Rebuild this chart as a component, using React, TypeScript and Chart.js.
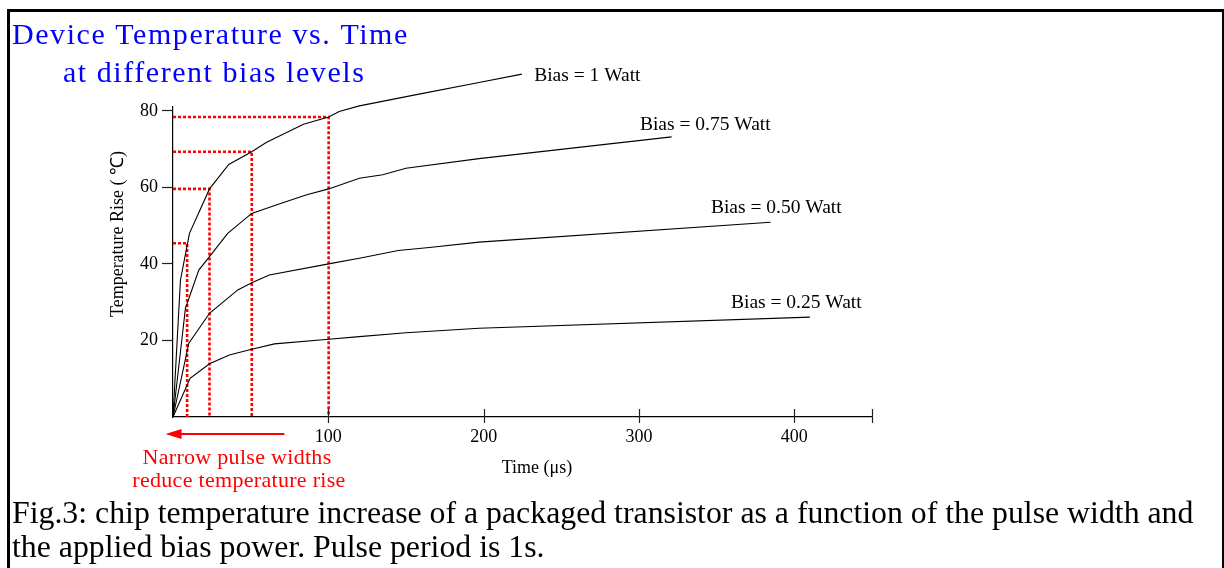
import { useEffect, useRef } from "react";
import { Chart, registerables } from "chart.js";

Chart.register(...registerables);

const SERIF = '"Liberation Serif", "Times New Roman", serif';

// ---- data (time in µs, temperature rise in °C) ----
const seriesNames = ["Bias = 1 Watt", "Bias = 0.75 Watt", "Bias = 0.50 Watt", "Bias = 0.25 Watt"];

const time1W = [0, 4.8, 10.6, 23.5, 35.9, 50.7, 60, 84, 100.2, 107, 120, 160, 197, 224.6];
const temp1W = [0, 35.8, 48, 59.6, 66, 69.3, 71.7, 76.5, 78.4, 79.8, 81.3, 84.5, 87.4, 89.6];

const time075W = [0, 8, 16.6, 23.5, 35.2, 50.7, 66.4, 85.6, 100.2, 120, 135, 150, 197, 321];
const temp075W = [0, 28.4, 38.4, 41.9, 48, 53.2, 55.4, 58, 59.6, 62.4, 63.3, 65, 67.5, 73.2];

const time050W = [0, 10.2, 23.5, 41.7, 50.7, 62, 100.2, 120, 145, 165, 197, 384.7];
const temp050W = [0, 19.3, 27.1, 33.2, 35.1, 37.1, 40, 41.5, 43.5, 44.3, 45.7, 50.9];

const time025W = [0, 11, 23.5, 36.3, 50.7, 65.3, 100.2, 120, 150, 197, 410];
const temp025W = [0, 10.1, 13.9, 16.2, 17.7, 19.1, 20.3, 21, 22, 23.2, 26.1];

// red dotted read-off guides (pulse width -> temperature on the 1 W curve)
const guideTimes = [9.1, 23.5, 50.7, 100.2];
const guideTemps = [45.4, 59.6, 69.3, 78.4];

const xTickValues = [100, 200, 300, 400];
const yTickValues = [20, 40, 60, 80];
const xMax = 450;
const yMax = 81;

// label anchors in data units (left edge, vertical middle)
const LABEL_ANCHORS = [
  { t: 232.5, T: 89.2 },
  { t: 300.6, T: 76.2 },
  { t: 346.3, T: 54.7 },
  { t: 359.2, T: 29.9 },
];

const titleLines = ["Device Temperature vs. Time", "at different bias levels"];
const captionLines = [
  "Fig.3: chip temperature increase of a packaged transistor as a function of the pulse width and",
  "the applied bias power. Pulse period is 1s.",
];
const noteLines = ["Narrow pulse widths", "reduce temperature rise"];

const zip = (xs: number[], ys: number[]) => xs.map((x, i) => ({ x, y: ys[i] }));

function drawText(ctx: any, text: string, x: number, y: number, font: string, color: string, align: string, baseline: string, spacing = 0) {
  ctx.save();
  ctx.font = font;
  ctx.fillStyle = color;
  ctx.textAlign = align;
  ctx.textBaseline = baseline;
  ctx.letterSpacing = spacing + "px";
  ctx.fillText(text, x, y);
  ctx.restore();
}

const decorPlugin = {
  id: "decor",
  beforeDraw(chart: any) {
    const { ctx, width, height } = chart;
    ctx.save();
    ctx.fillStyle = "#ffffff";
    ctx.fillRect(0, 0, width, height);
    ctx.fillStyle = "#000000";
    ctx.fillRect(7, 9, 3, height - 9);
    ctx.fillRect(7, 9, width - 9, 3);
    ctx.fillRect(width - 2, 9, 2, height - 9);
    ctx.restore();
  },
  afterDraw(chart: any) {
    const { ctx, chartArea } = chart;
    const xs = chart.scales.x;
    const ys = chart.scales.y;

    // x tick marks crossing the axis
    ctx.save();
    ctx.strokeStyle = "#222";
    ctx.lineWidth = 1.2;
    [...xTickValues, xMax].forEach((v) => {
      const px = Math.round(xs.getPixelForValue(v)) + 0.5;
      ctx.beginPath();
      ctx.moveTo(px, chartArea.bottom - 8);
      ctx.lineTo(px, chartArea.bottom + 6);
      ctx.stroke();
    });
    ctx.restore();

    // title
    drawText(ctx, titleLines[0], 12, 44, `30px ${SERIF}`, "#0000ff", "left", "alphabetic", 1.55);
    drawText(ctx, titleLines[1], 63, 82, `30px ${SERIF}`, "#0000ff", "left", "alphabetic", 1.55);

    // caption
    drawText(ctx, captionLines[0], 12, 523, `31.8px ${SERIF}`, "#000", "left", "alphabetic");
    drawText(ctx, captionLines[1], 12, 557, `31.8px ${SERIF}`, "#000", "left", "alphabetic");

    // axis titles
    drawText(ctx, "Time (\u03bcs)", 537, 468, `18px ${SERIF}`, "#000", "center", "middle");
    ctx.save();
    ctx.translate(118, 234);
    ctx.rotate(-Math.PI / 2);
    drawText(ctx, "Temperature Rise ( \u2103)", 0, 0, `18px ${SERIF}`, "#000", "center", "middle");
    ctx.restore();

    // series labels
    LABEL_ANCHORS.forEach((a, i) => {
      drawText(ctx, seriesNames[i], xs.getPixelForValue(a.t), ys.getPixelForValue(a.T), `19.5px ${SERIF}`, "#000", "left", "middle");
    });

    // red arrow
    const ay = chartArea.bottom + 17;
    const ax1 = xs.getPixelForValue(71.7);
    const ax0 = xs.getPixelForValue(-4.8);
    ctx.save();
    ctx.strokeStyle = "#ff0000";
    ctx.fillStyle = "#ff0000";
    ctx.lineWidth = 2;
    ctx.beginPath();
    ctx.moveTo(ax1, ay);
    ctx.lineTo(ax0 + 12, ay);
    ctx.stroke();
    ctx.beginPath();
    ctx.moveTo(ax0, ay);
    ctx.lineTo(ax0 + 16, ay - 5);
    ctx.lineTo(ax0 + 16, ay + 5);
    ctx.closePath();
    ctx.fill();
    ctx.restore();

    drawText(ctx, noteLines[0], 237, 464, `22px ${SERIF}`, "#ff0000", "center", "alphabetic", 0.3);
    drawText(ctx, noteLines[1], 239, 486.5, `22px ${SERIF}`, "#ff0000", "center", "alphabetic", 0.3);
  },
};

export default function App() {
  const canvasRef = useRef<HTMLCanvasElement | null>(null);

  useEffect(() => {
    document.body.style.margin = "0";
    const canvas = canvasRef.current;
    if (!canvas) return;

    const curveStyle = {
      borderColor: "#000000",
      borderWidth: 1.1,
      pointRadius: 0,
      tension: 0,
      fill: false,
      clip: false as any,
    };
    const curves = [
      zip(time1W, temp1W),
      zip(time075W, temp075W),
      zip(time050W, temp050W),
      zip(time025W, temp025W),
    ].map((data, i) => ({ label: seriesNames[i], data, ...curveStyle, order: 1 }));

    const guides = guideTimes.map((t, i) => ({
      label: "guide" + i,
      data: [
        { x: 0, y: guideTemps[i] },
        { x: t, y: guideTemps[i] },
        { x: t, y: 0 },
      ],
      borderColor: "#ff0000",
      borderWidth: 2.6,
      borderDash: [3, 2],
      pointRadius: 0,
      tension: 0,
      fill: false,
      clip: false as any,
      order: 2,
    }));

    const chart = new Chart(canvas, {
      type: "line",
      data: { datasets: [...curves, ...guides] as any },
      plugins: [decorPlugin as any],
      options: {
        animation: false,
        responsive: true,
        maintainAspectRatio: false,
        layout: { padding: { left: 0, top: 107, right: 352, bottom: 0 } },
        plugins: { legend: { display: false }, tooltip: { enabled: false }, title: { display: false } },
        scales: {
          x: {
            type: "linear",
            min: 0,
            max: xMax,
            afterBuildTicks: (scale: any) => {
              scale.ticks = [0, ...xTickValues, xMax].map((value) => ({ value }));
            },
            afterFit: (scale: any) => {
              scale.height = 151;
            },
            grid: { display: true, drawOnChartArea: false, drawTicks: false },
            border: { display: true, color: "#000", width: 1.2 },
            ticks: {
              color: "#000",
              font: { family: SERIF, size: 18 },
              padding: 9,
              maxRotation: 0,
              autoSkip: false,
              callback: (v: any) => (xTickValues.includes(Number(v)) ? String(v) : ""),
            },
          },
          y: {
            type: "linear",
            min: 0,
            max: yMax,
            afterBuildTicks: (scale: any) => {
              scale.ticks = yTickValues.map((value) => ({ value }));
            },
            afterFit: (scale: any) => {
              scale.width = 173;
            },
            grid: { display: true, drawOnChartArea: false, drawTicks: true, tickLength: 11, tickColor: "#222", tickWidth: 1.2 },
            border: { display: true, color: "#000", width: 1.2 },
            ticks: {
              color: "#000",
              font: { family: SERIF, size: 18 },
              padding: 4,
              autoSkip: false,
              callback: (v: any) => String(v),
            },
          },
        },
      },
    });

    return () => chart.destroy();
  }, []);

  return (
    <div style={{ width: 1224, height: 568, position: "relative" }}>
      <canvas ref={canvasRef} />
    </div>
  );
}
